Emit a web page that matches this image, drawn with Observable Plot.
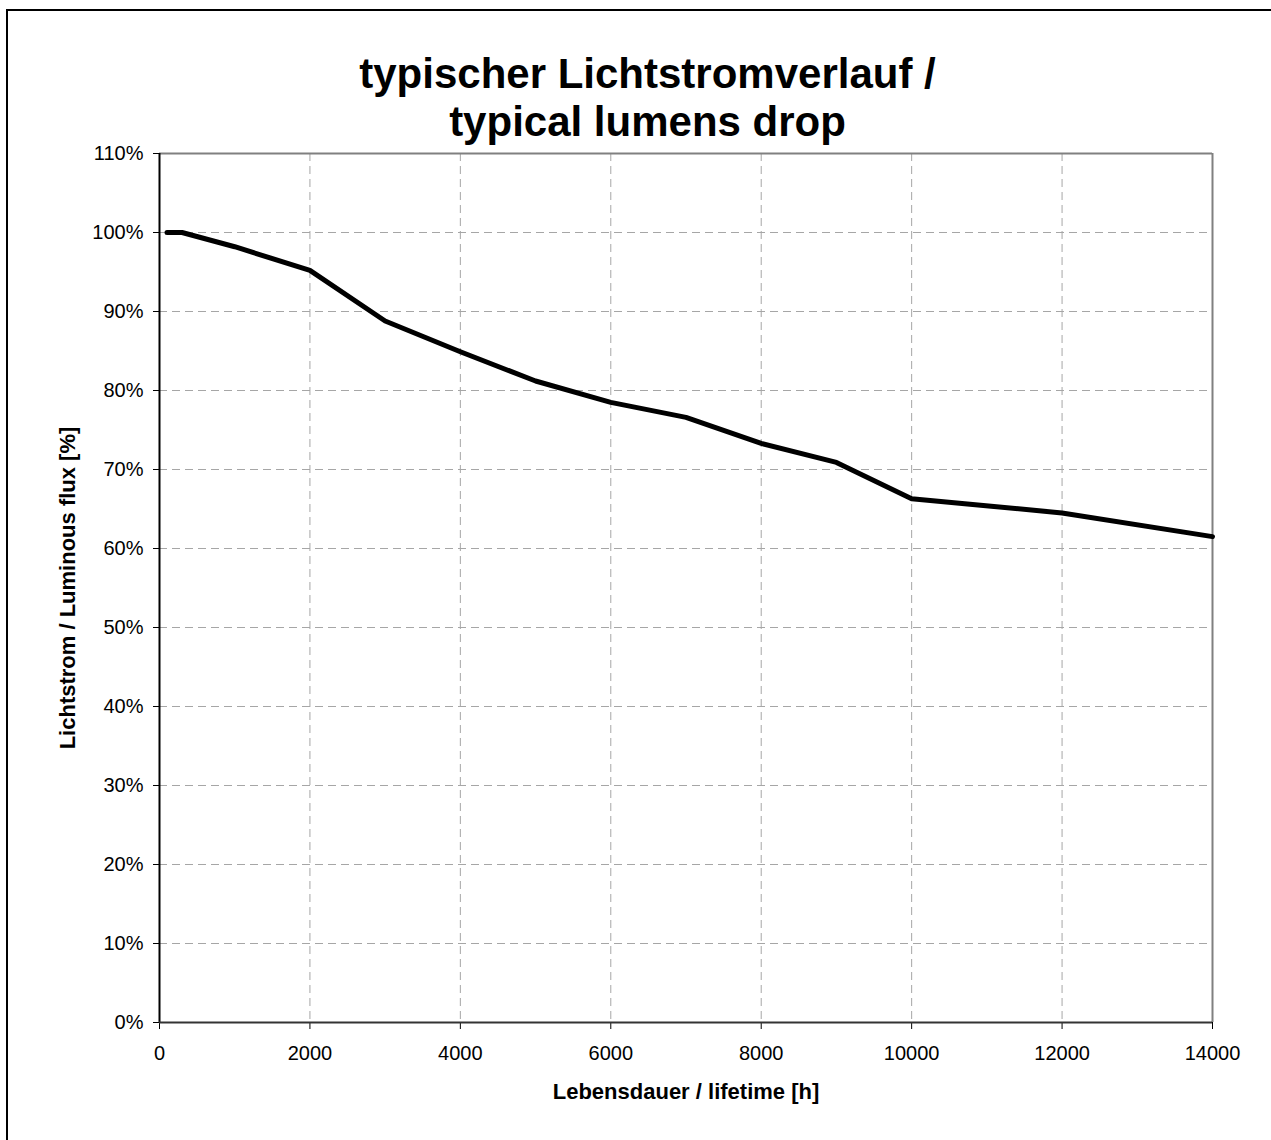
<!DOCTYPE html>
<html>
<head>
<meta charset="utf-8">
<script src="https://cdn.jsdelivr.net/npm/d3@7"></script>
<script src="https://cdn.jsdelivr.net/npm/@observablehq/plot@0.6"></script>
<style>
  html, body { margin: 0; padding: 0; background: #fff; }
</style>
</head>
<body>
<div id="chart"></div>
<script>
// Data
const hours = [100, 300, 1000, 2000, 3000, 4000, 5000, 6000, 7000, 8000, 9000, 10000, 12000, 14000];
const flux  = [1.000, 1.000, 0.982, 0.952, 0.888, 0.849, 0.812, 0.785, 0.766, 0.733, 0.709, 0.663, 0.645, 0.615];
const xTicks = [0, 2000, 4000, 6000, 8000, 10000, 12000, 14000];
const yTicks = [0, 0.1, 0.2, 0.3, 0.4, 0.5, 0.6, 0.7, 0.8, 0.9, 1.0, 1.1];
const titleText = "typischer Lichtstromverlauf /\ntypical lumens drop";
const xTitle = "Lebensdauer / lifetime [h]";
const yTitle = "Lichtstrom / Luminous flux [%]";

const data = hours.map((h, i) => ({h, f: flux[i]}));
const pct = d => Math.round(d * 100) + "%";

const chart = Plot.plot({
  width: 1271,
  height: 1140,
  marginLeft: 159,
  marginRight: 59,
  marginTop: 153,
  marginBottom: 118,
  style: {fontFamily: "'Liberation Sans', Arial, sans-serif", fontSize: "20px", color: "#000", background: "#fff"},
  x: {domain: [0, 14000], label: null},
  y: {domain: [0, 1.1], label: null},
  marks: [
    Plot.gridX(xTicks.slice(1, -1), {stroke: "#a6a6a6", strokeOpacity: 1, strokeWidth: 1, strokeDasharray: "8,5"}),
    Plot.gridY(yTicks.slice(1, -1), {stroke: "#a6a6a6", strokeOpacity: 1, strokeWidth: 1, strokeDasharray: "8,5"}),
    Plot.ruleY([1.1], {stroke: "#808080", strokeWidth: 2}),
    Plot.ruleX([14000], {stroke: "#808080", strokeWidth: 2}),
    Plot.axisY(yTicks, {tickSize: 6, tickPadding: 10, tickFormat: pct, fontSize: 20, stroke: "#000", label: null}),
    Plot.axisX(xTicks, {tickSize: 7, tickPadding: 16, tickFormat: d => String(d), fontSize: 20, stroke: "#000", label: null}),
    Plot.ruleX([0], {stroke: "#000", strokeWidth: 2}),
    Plot.ruleY([0], {stroke: "#333", strokeWidth: 2}),
    Plot.line(data, {x: "h", y: "f", stroke: "#000", strokeWidth: 5}),
    Plot.text([titleText], {frameAnchor: "top-left", dx: 488, dy: -100, textAnchor: "middle", lineAnchor: "top", lineHeight: 1.15, fontSize: 42, fontWeight: "bold", fill: "#000"}),
    Plot.text([xTitle], {frameAnchor: "bottom", dy: 69, lineAnchor: "middle", fontSize: 22, fontWeight: "bold", fill: "#000"}),
    Plot.text([yTitle], {frameAnchor: "left", dx: -92, rotate: -90, lineAnchor: "middle", textAnchor: "middle", fontSize: 22, fontWeight: "bold", fill: "#000"})
  ]
});

// outer chart-area border (left and top visible in the reference)
d3.select(chart).append("rect")
  .attr("x", 7).attr("y", 10)
  .attr("width", 1300).attr("height", 1200)
  .attr("fill", "none").attr("stroke", "#000").attr("stroke-width", 2);

document.getElementById("chart").appendChild(chart);
</script>
</body>
</html>
